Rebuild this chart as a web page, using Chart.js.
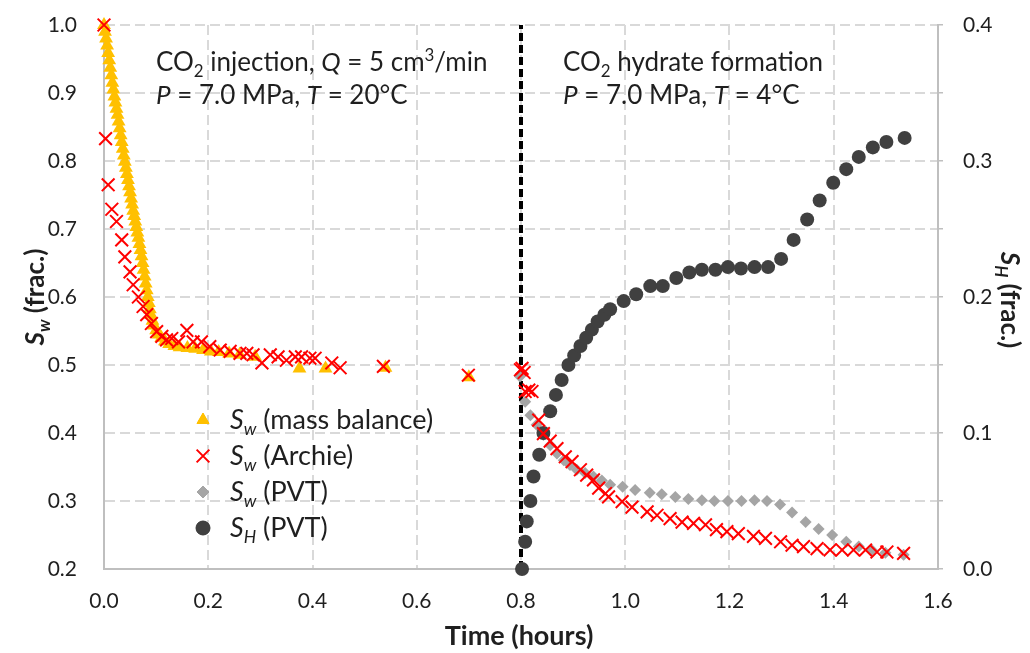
<!DOCTYPE html>
<html>
<head>
<meta charset="utf-8">
<script src="https://cdn.jsdelivr.net/npm/chart.js@4/dist/chart.umd.min.js"></script>
<style>
  html, body { margin: 0; padding: 0; background: #fff; }
</style>
</head>
<body>
<canvas id="c" width="1030" height="653"></canvas>
<script>
// Sw from mass balance (hours, frac.)
const mbTime = [0.000,0.002,0.004,0.006,0.008,0.010,0.012,0.014,0.016,0.018,0.020,0.022,0.024,0.026,0.028,0.030,0.032,0.034,0.036,0.038,0.040,0.042,0.044,0.046,0.048,0.050,0.052,0.054,0.056,0.058,0.060,0.062,0.064,0.066,0.068,0.070,0.072,0.074,0.076,0.078,0.080,0.082,0.084,0.086,0.088,0.090,0.093,0.096,0.100,0.105,0.110,0.117,0.125,0.135,0.145,0.160,0.175,0.190,0.205,0.220,0.240,0.260,0.290,0.375,0.425,0.540,0.700];
const mbSw = [1.000,0.990,0.980,0.970,0.959,0.948,0.937,0.926,0.915,0.905,0.895,0.886,0.877,0.868,0.858,0.848,0.838,0.828,0.818,0.808,0.799,0.790,0.781,0.772,0.763,0.754,0.745,0.736,0.727,0.719,0.711,0.703,0.695,0.687,0.678,0.669,0.660,0.650,0.640,0.630,0.620,0.610,0.600,0.591,0.582,0.574,0.565,0.558,0.551,0.545,0.540,0.535,0.531,0.528,0.526,0.525,0.524,0.522,0.520,0.519,0.517,0.515,0.512,0.495,0.495,0.496,0.482];

// Sw from Archie
const arTime = [0.000,0.003,0.008,0.015,0.024,0.034,0.040,0.050,0.056,0.066,0.075,0.082,0.091,0.101,0.111,0.120,0.130,0.143,0.159,0.171,0.187,0.203,0.223,0.242,0.261,0.274,0.286,0.303,0.319,0.334,0.350,0.367,0.379,0.395,0.405,0.437,0.453,0.536,0.699,0.799,0.802,0.806,0.808,0.815,0.821,0.834,0.843,0.856,0.869,0.885,0.898,0.914,0.926,0.939,0.949,0.962,0.968,0.994,1.013,1.042,1.061,1.086,1.109,1.131,1.154,1.175,1.195,1.217,1.246,1.269,1.298,1.320,1.342,1.368,1.393,1.416,1.438,1.461,1.483,1.502,1.534];
const arSw = [1.000,0.833,0.765,0.729,0.711,0.684,0.659,0.637,0.618,0.600,0.586,0.574,0.561,0.549,0.542,0.537,0.539,0.534,0.551,0.534,0.534,0.527,0.522,0.520,0.517,0.517,0.515,0.503,0.515,0.512,0.507,0.512,0.512,0.510,0.510,0.503,0.496,0.498,0.485,0.493,0.495,0.489,0.461,0.463,0.461,0.419,0.399,0.388,0.377,0.365,0.358,0.346,0.338,0.331,0.319,0.311,0.306,0.299,0.291,0.284,0.279,0.274,0.269,0.267,0.265,0.258,0.255,0.252,0.248,0.245,0.240,0.235,0.233,0.230,0.228,0.228,0.228,0.228,0.225,0.225,0.223];

// Sw from PVT
const pvtTime = [0.798,0.808,0.818,0.830,0.843,0.856,0.869,0.882,0.894,0.907,0.923,0.939,0.955,0.971,0.995,1.019,1.047,1.070,1.096,1.121,1.147,1.171,1.197,1.223,1.248,1.272,1.297,1.320,1.346,1.371,1.397,1.424,1.448,1.473,1.499,1.534];
const pvtSw = [0.483,0.446,0.426,0.412,0.397,0.382,0.370,0.360,0.353,0.346,0.341,0.336,0.330,0.324,0.321,0.316,0.312,0.310,0.306,0.303,0.301,0.300,0.300,0.300,0.301,0.300,0.295,0.283,0.269,0.259,0.250,0.240,0.233,0.228,0.224,0.221];

// SH from PVT (right axis)
const shTime = [0.802,0.808,0.811,0.818,0.824,0.835,0.843,0.856,0.867,0.878,0.891,0.902,0.914,0.925,0.936,0.947,0.960,0.971,0.997,1.021,1.048,1.072,1.098,1.123,1.147,1.173,1.197,1.222,1.248,1.274,1.299,1.323,1.349,1.373,1.399,1.424,1.448,1.475,1.501,1.536];
const shVal = [0.000,0.020,0.035,0.050,0.068,0.084,0.100,0.116,0.128,0.139,0.150,0.157,0.164,0.170,0.176,0.182,0.187,0.191,0.197,0.202,0.208,0.208,0.214,0.218,0.220,0.220,0.222,0.221,0.222,0.222,0.228,0.242,0.257,0.271,0.284,0.294,0.303,0.310,0.314,0.317];

// start of hydrate formation
const switchTime = 0.8;

const FONT = 'Lato, "Open Sans", sans-serif';
const TXT = '#1f1f1f';

function pts(xs, ys) {
    return xs.map((x, i) => ({x: x, y: ys[i]}));
}

// text with italic / subscript / superscript pieces
function drawRich(ctx, parts, x, y, size, bold, center) {
    const fontOf = function (p) {
        const small = p[1].indexOf('sub') >= 0 || p[1].indexOf('sup') >= 0;
        const it = p[1].charAt(0) === 'i' ? 'italic ' : '';
        return it + (bold ? 'bold ' : '') + (small ? size * 0.65 : size) + 'px ' + FONT;
    };
    let total = 0;
    parts.forEach(p => { ctx.font = fontOf(p); total += ctx.measureText(p[0]).width; });
    let cx = center ? x - total / 2 : x;
    ctx.textAlign = 'left';
    ctx.textBaseline = 'alphabetic';
    parts.forEach(p => {
        ctx.font = fontOf(p);
        let dy = 0;
        if (p[1].indexOf('sub') >= 0) dy = size * 0.22;
        if (p[1].indexOf('sup') >= 0) dy = -size * 0.38;
        ctx.fillText(p[0], cx, y + dy);
        cx += ctx.measureText(p[0]).width;
    });
}

const legendItems = [
    {style: 'triangle', color: '#FFC000', r: 7, parts: [['S', 'i'], ['w', 'isub'], [' (mass balance)', 'n']]},
    {style: 'crossRot', color: '#FF0000', r: 9, parts: [['S', 'i'], ['w', 'isub'], [' (Archie)', 'n']]},
    {style: 'rectRot', color: '#A5A5A5', r: 6, parts: [['S', 'i'], ['w', 'isub'], [' (PVT)', 'n']]},
    {style: 'circle', color: '#404040', r: 7, parts: [['S', 'i'], ['H', 'isub'], [' (PVT)', 'n']]}
];

const extras = {
    id: 'extras',
    afterDraw(chart) {
        const ctx = chart.ctx;
        ctx.save();
        ctx.fillStyle = TXT;
        // notes
        drawRich(ctx, [['CO', 'n'], ['2', 'sub'], [' injection, ', 'n'], ['Q', 'i'], [' = 5 cm', 'n'], ['3', 'sup'], ['/min', 'n']], 156, 71, 26);
        drawRich(ctx, [['P', 'i'], [' = 7.0 MPa, ', 'n'], ['T', 'i'], [' = 20°C', 'n']], 156, 104, 26);
        drawRich(ctx, [['CO', 'n'], ['2', 'sub'], [' hydrate formation', 'n']], 563, 71, 26);
        drawRich(ctx, [['P', 'i'], [' = 7.0 MPa, ', 'n'], ['T', 'i'], [' = 4°C', 'n']], 563, 104, 26);

        // legend
        legendItems.forEach((it, i) => {
            const y = 420 + i * 36;
            ctx.fillStyle = it.color;
            ctx.strokeStyle = it.color;
            ctx.lineWidth = it.style === 'crossRot' ? 2 : 1;
            Chart.helpers.drawPoint(ctx, {pointStyle: it.style, radius: it.r, rotation: 0, borderWidth: ctx.lineWidth}, 203, y);
            if (it.style !== 'crossRot') ctx.fill();
            ctx.fillStyle = TXT;
            drawRich(ctx, it.parts, 230, y + 9, 27);
        });

        // axis titles
        ctx.fillStyle = TXT;
        drawRich(ctx, [['Time (hours)', 'n']], 519, 645, 27, true, true);
        ctx.save();
        ctx.translate(44, 297);
        ctx.rotate(-Math.PI / 2);
        drawRich(ctx, [['S', 'i'], ['w', 'isub'], [' (frac.)', 'n']], 0, 0, 26, true, true);
        ctx.restore();
        ctx.save();
        ctx.translate(1001, 300);
        ctx.rotate(Math.PI / 2);
        drawRich(ctx, [['S', 'i'], ['H', 'isub'], [' (frac.)', 'n']], 0, 0, 26, true, true);
        ctx.restore();
        ctx.restore();
    }
};

const tickFont = {family: FONT, size: 21};

// keep the plot box fixed: no extra label padding above/below vertical axes
function fixVertical(width) {
    return function (s) {
        s.width = width;
        s.paddingTop = 0;
        s.paddingBottom = 0;
    };
}

new Chart(document.getElementById('c').getContext('2d'), {
    type: 'scatter',
    data: {
        datasets: [
            {
                label: 'Sw (Archie)', data: pts(arTime, arSw), yAxisID: 'y', order: 1,
                pointStyle: 'crossRot', pointRadius: 9, borderColor: '#FF0000', backgroundColor: '#FF0000',
                pointBorderWidth: 2, clip: false
            },
            {
                label: 'SH (PVT)', data: pts(shTime, shVal), yAxisID: 'y2', order: 2,
                pointStyle: 'circle', pointRadius: 7, borderColor: '#404040', backgroundColor: '#404040',
                pointBorderWidth: 0, clip: false
            },
            {
                label: 'Sw (PVT)', data: pts(pvtTime, pvtSw), yAxisID: 'y', order: 3,
                pointStyle: 'rectRot', pointRadius: 6, borderColor: '#A5A5A5', backgroundColor: '#A5A5A5',
                pointBorderWidth: 0, clip: false
            },
            {
                label: 'Sw (mass balance)', data: pts(mbTime, mbSw), yAxisID: 'y', order: 4,
                pointStyle: 'triangle', pointRadius: 8, borderColor: '#FFC000', backgroundColor: '#FFC000',
                pointBorderWidth: 0, clip: false
            },
            {
                label: 'switch', type: 'line', yAxisID: 'y', order: 5,
                data: [{x: switchTime, y: 0.2}, {x: switchTime, y: 1.0}],
                borderColor: '#000', borderWidth: 4, borderDash: [8, 4], pointRadius: 0, fill: false
            }
        ]
    },
    options: {
        responsive: false,
        animation: false,
        events: [],
        layout: {padding: {top: 25, left: 0, right: 0, bottom: 0}, autoPadding: false},
        plugins: {legend: {display: false}, tooltip: {enabled: false}},
        scales: {
            x: {
                type: 'linear', min: 0, max: 1.6,
                ticks: {stepSize: 0.2, font: tickFont, color: TXT, padding: 20, callback: v => v.toFixed(1)},
                grid: {color: '#D9D9D9', lineWidth: 2, drawTicks: false},
                border: {color: '#BFBFBF', width: 2, dash: [10, 5]},
                afterFit(s) { s.height = 84; s.paddingLeft = 0; s.paddingRight = 0; }
            },
            y: {
                position: 'left', min: 0.2, max: 1.0,
                ticks: {stepSize: 0.1, font: tickFont, color: TXT, padding: 27, callback: v => v.toFixed(1)},
                grid: {color: '#D9D9D9', lineWidth: 2, drawTicks: false},
                border: {color: '#BFBFBF', width: 2, dash: [10, 5]},
                afterFit: fixVertical(104)
            },
            y2: {
                position: 'right', min: 0, max: 0.4,
                ticks: {
                    stepSize: 0.05, font: tickFont, color: TXT, padding: 20,
                    callback: v => Math.abs(v * 10 - Math.round(v * 10)) < 1e-6 ? v.toFixed(1) : ''
                },
                grid: {drawOnChartArea: false, drawTicks: true, tickLength: 5, color: '#BFBFBF', lineWidth: 1.5},
                border: {color: '#BFBFBF', width: 2},
                afterFit: fixVertical(92)
            }
        }
    },
    plugins: [extras]
});
</script>
</body>
</html>
